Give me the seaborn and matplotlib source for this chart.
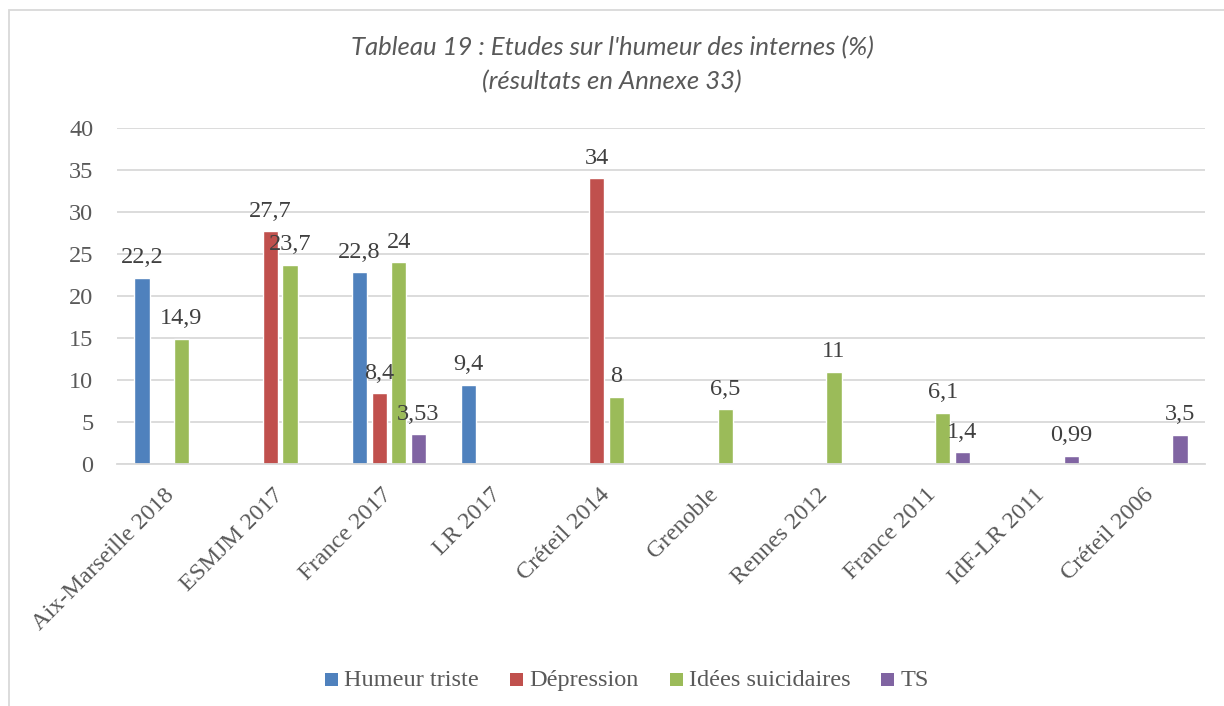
import numpy as np
import pandas as pd
import seaborn as sns
import matplotlib
matplotlib.use("Agg")
import matplotlib.pyplot as plt
from matplotlib.patches import Rectangle

categories = ["Aix-Marseille 2018", "ESMJM 2017", "France 2017", "LR 2017", "Créteil 2014",
              "Grenoble", "Rennes 2012", "France 2011", "IdF-LR 2011", "Créteil 2006"]
humeur_triste = [22.2, np.nan, 22.8, 9.4, np.nan, np.nan, np.nan, np.nan, np.nan, np.nan]
depression = [np.nan, 27.7, 8.4, np.nan, 34, np.nan, np.nan, np.nan, np.nan, np.nan]
idees_suicidaires = [14.9, 23.7, 24, np.nan, 8, 6.5, 11, 6.1, np.nan, np.nan]
ts = [np.nan, np.nan, 3.53, np.nan, np.nan, np.nan, np.nan, 1.4, 0.99, 3.5]
series_names = ["Humeur triste", "Dépression", "Idées suicidaires", "TS"]
colors = ["#4F81BD", "#C0504D", "#9BBB59", "#8064A2"]
y_ticks = [0, 5, 10, 15, 20, 25, 30, 35, 40]

rows = []
for name, vals in zip(series_names, [humeur_triste, depression, idees_suicidaires, ts]):
    for c, v in zip(categories, vals):
        rows.append({"cat": c, "serie": name, "val": v})
df = pd.DataFrame(rows)

sns.set_style("white")
plt.rcParams["font.family"] = ["Liberation Serif", "DejaVu Serif"]
text_color = "#595959"
fs = 17.5

W, H = 1224, 706
fig = plt.figure(figsize=(W / 100, H / 100), dpi=100)
ax = fig.add_axes([117/W, 1-464/H, (1205-117)/W, (464-128)/H])

sns.barplot(data=df, x="cat", y="val", hue="serie", order=categories, hue_order=series_names,
            palette=colors, width=0.72, gap=0.23, ax=ax, saturation=1, errorbar=None,
            legend=False)

ax.set_ylim(0, 40)
ax.set_xlim(-0.5, len(categories) - 0.5)
ax.set_yticks(y_ticks)
ax.set_yticklabels([str(t) for t in y_ticks])
ax.yaxis.grid(True, color="#D9D9D9", linewidth=1.3)
ax.set_axisbelow(True)
for s in ["top", "right", "left"]:
    ax.spines[s].set_visible(False)
ax.spines["bottom"].set_color("#D9D9D9")
ax.spines["bottom"].set_linewidth(1.3)
ax.set_xlabel("")
ax.set_ylabel("")
ax.tick_params(axis="y", length=0, pad=17, labelsize=fs, labelcolor=text_color)
ax.tick_params(axis="x", length=0, pad=20, labelsize=fs, labelcolor=text_color)
for lab in ax.get_xticklabels():
    lab.set_rotation(45)
    lab.set_ha("right")
    lab.set_va("center")
    lab.set_rotation_mode("anchor")

for cont in ax.containers:
    for bar in cont:
        h = bar.get_height()
        if np.isnan(h) or h == 0:
            continue
        txt = f"{h:g}".replace(".", ",")
        ax.annotate(txt, (bar.get_x() + bar.get_width() / 2, h), xytext=(0, 7),
                    textcoords="offset points", ha="center", va="bottom",
                    fontsize=fs, color="#404040")

# Legend drawn as a row of swatches + baseline-aligned texts
renderer = fig.canvas.get_renderer()
sq = 13          # swatch size, px
pad_txt = 6      # swatch-to-text gap, px
col_gap = 31     # gap between entries, px
base_y = 686     # text baseline, px from top
widths = []
for name in series_names:
    t = fig.text(0, 0, name, fontsize=fs)
    widths.append(t.get_window_extent(renderer).width)
    t.remove()
total = sum(sq + pad_txt + w for w in widths) + col_gap * (len(widths) - 1)
x = 627 - total / 2
for name, col, w in zip(series_names, colors, widths):
    fig.patches.append(Rectangle((x / W, 1 - base_y / H), sq / W, sq / H,
                                 transform=fig.transFigure, facecolor=col, edgecolor="none"))
    fig.text((x + sq + pad_txt) / W, 1 - base_y / H, name, fontsize=fs, color=text_color,
             ha="left", va="baseline")
    x += sq + pad_txt + w + col_gap

title_font = ["Lato", "DejaVu Sans"]
fig.text(612/W, 1-48/H, "Tableau 19 : Etudes sur l'humeur des internes (%)",
         ha="center", va="center", fontsize=18.5, style="italic", color=text_color,
         family=title_font)
fig.text(612/W, 1-82/H, "(résultats en Annexe 33)",
         ha="center", va="center", fontsize=18.5, style="italic", color=text_color,
         family=title_font)

fig.patches.append(Rectangle((9/W, -0.1), 1.2, 1 - 10/H + 0.1, transform=fig.transFigure,
                             fill=False, edgecolor="#D9D9D9", linewidth=1.3))

fig.savefig("out.png", dpi=100)
